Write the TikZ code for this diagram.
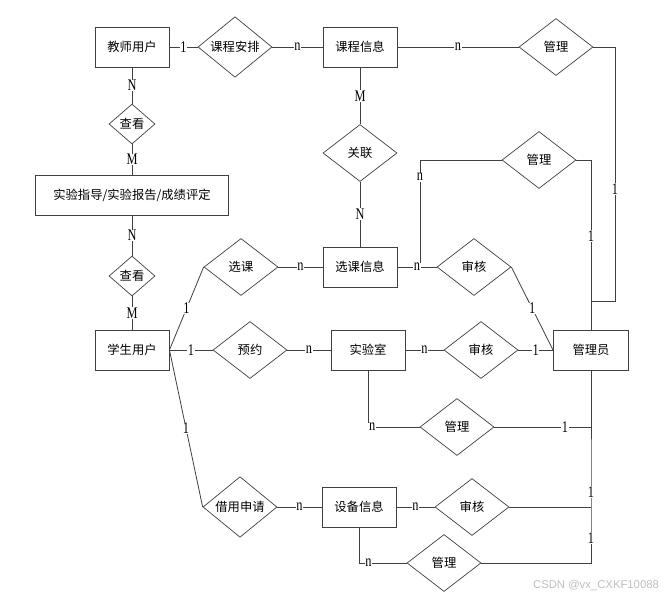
\documentclass[tikz,border=0pt]{standalone}
\usepackage{graphicx}
\usepackage{fontspec}
\setmainfont{Liberation Serif}
\newfontfamily\cjk{Noto Sans CJK SC}
\newfontfamily\wmfont{Liberation Sans}
\usetikzlibrary{shapes.geometric}
\definecolor{linec}{HTML}{404040}
\newcommand\crdlab[1]{\scalebox{0.95}[1.25]{#1}}
\begin{document}
\begin{tikzpicture}[x=1pt,y=-1pt,
 ent/.style={draw=linec, line width=0.9pt, minimum width=74pt, minimum height=40pt, inner sep=0pt, font=\cjk\fontsize{12.3}{12.3}\selectfont},
 rel/.style={draw=linec, line width=0.7pt, diamond, minimum width=74pt, minimum height=57pt, inner sep=0pt, font=\cjk\fontsize{12.3}{12.3}\selectfont},
 srel/.style={rel, minimum width=46pt, minimum height=40pt},
 conn/.style={draw=linec, line width=0.8pt},
 card/.style={fill=white, inner sep=0.6pt, font=\fontsize{13}{13}\selectfont, text=black}]
\fill[white] (0,0) rectangle (672,600);
\useasboundingbox (0,0) rectangle (672,600);
% nodes
\node[ent] (teacher) at (132,47) {教师用户};
\node[rel] (kcap) at (235,47) {课程安排};
\node[ent] (kcxx) at (360,47) {课程信息};
\node[rel] (gl1) at (556,47) {管理};
\node[srel] (ck1) at (132,124) {查看};
\node[ent, minimum width=193pt] (syzd) at (132,195) {实验指导/实验报告/成绩评定};
\node[srel] (ck2) at (132,276) {查看};
\node[ent] (student) at (132,350) {学生用户};
\node[rel] (gl) at (360,153) {关联};
\node[rel] (gl2) at (539,160) {管理};
\node[rel] (xk) at (241,267) {选课};
\node[ent] (xkxx) at (360,267) {选课信息};
\node[rel] (sh1) at (474,267) {审核};
\node[rel] (yy) at (250,350) {预约};
\node[ent] (labroom) at (368,350) {实验室};
\node[rel] (sh2) at (481,350) {审核};
\node[ent, minimum width=75pt] (admin) at (591,350) {管理员};
\node[rel] (gl3) at (457,427) {管理};
\node[rel] (jy) at (240,507) {借用申请};
\node[ent] (sb) at (359,507) {设备信息};
\node[rel] (sh3) at (472,507) {审核};
\node[rel] (gl4) at (444,563) {管理};
\node[font=\wmfont\fontsize{11.3}{11.3}\selectfont, text=gray!50] (wm) at (596,586) {CSDN @vx\_CXKF10088};
% coordinates
\coordinate (a1) at (615,47);
\coordinate (a2) at (615,301);
\coordinate (a3) at (591,301);
\coordinate (b1) at (420,160);
\coordinate (b2) at (420,267);
\coordinate (b3) at (591,160);
\coordinate (c1) at (368,427);
\coordinate (c2) at (591,427);
\coordinate (d1) at (591,507);
\coordinate (d2) at (591,563);
\coordinate (e1) at (359,563);
% connectors
\draw[conn] (teacher.east) -- node[card]{\crdlab{1}} (kcap.west);
\draw[conn] (kcap.east) -- node[card]{\crdlab{n}} (kcxx.west);
\draw[conn] (kcxx.east) -- node[card]{\crdlab{n}} (gl1.west);
\draw[conn] (gl1.east) -- (a1) -- node[card, pos=0.56]{\crdlab{1}} (a2) -- (a3);
\draw[conn] (kcxx.south) -- node[card]{\crdlab{M}} (gl.north);
\draw[conn] (gl.south) -- node[card]{\crdlab{N}} (xkxx.north);
\draw[conn] (gl2.west) -- (b1) -- node[card, pos=0.16]{\crdlab{n}} (b2);
\draw[conn] (gl2.east) -- (b3) -- node[card, pos=0.45]{\crdlab{1}} (admin.north);
\draw[conn] (xkxx.east) -- node[card]{\crdlab{n}} (sh1.west);
\draw[conn] (sh1.east) -- node[card]{\crdlab{1}} (admin.west);
\draw[conn] (teacher.south) -- node[card]{\crdlab{N}} (ck1.north);
\draw[conn] (ck1.south) -- node[card]{\crdlab{M}} (syzd.north);
\draw[conn] (syzd.south) -- node[card]{\crdlab{N}} (ck2.north);
\draw[conn] (ck2.south) -- node[card]{\crdlab{M}} (student.north);
\draw[conn] (student.east) -- node[card]{\crdlab{1}} (xk.west);
\draw[conn] (xk.east) -- node[card]{\crdlab{n}} (xkxx.west);
\draw[conn] (student.east) -- node[card]{\crdlab{1}} (yy.west);
\draw[conn] (yy.east) -- node[card]{\crdlab{n}} (labroom.west);
\draw[conn] (labroom.east) -- node[card]{\crdlab{n}} (sh2.west);
\draw[conn] (sh2.east) -- node[card]{\crdlab{1}} (admin.west);
\draw[conn] (labroom.south) -- (c1) -- node[card, pos=0.08]{\crdlab{n}} (gl3.west);
\draw[conn] (gl3.east) -- node[card, pos=0.73]{\crdlab{1}} (c2);
\draw[conn] (student.east) -- node[card]{\crdlab{1}} (jy.west);
\draw[conn] (jy.east) -- node[card]{\crdlab{n}} (sb.west);
\draw[conn] (sb.east) -- node[card]{\crdlab{n}} (sh3.west);
\draw[conn] (sh3.east) -- (d1);
\draw[conn] (admin.south) -- node[card, pos=0.89]{\crdlab{1}} (d1) -- node[card, pos=0.55]{\crdlab{1}} (d2) -- (gl4.east);
\draw[conn] (sb.south) -- (e1) -- node[card, pos=0.2]{\crdlab{n}} (gl4.west);
\end{tikzpicture}
\end{document}
